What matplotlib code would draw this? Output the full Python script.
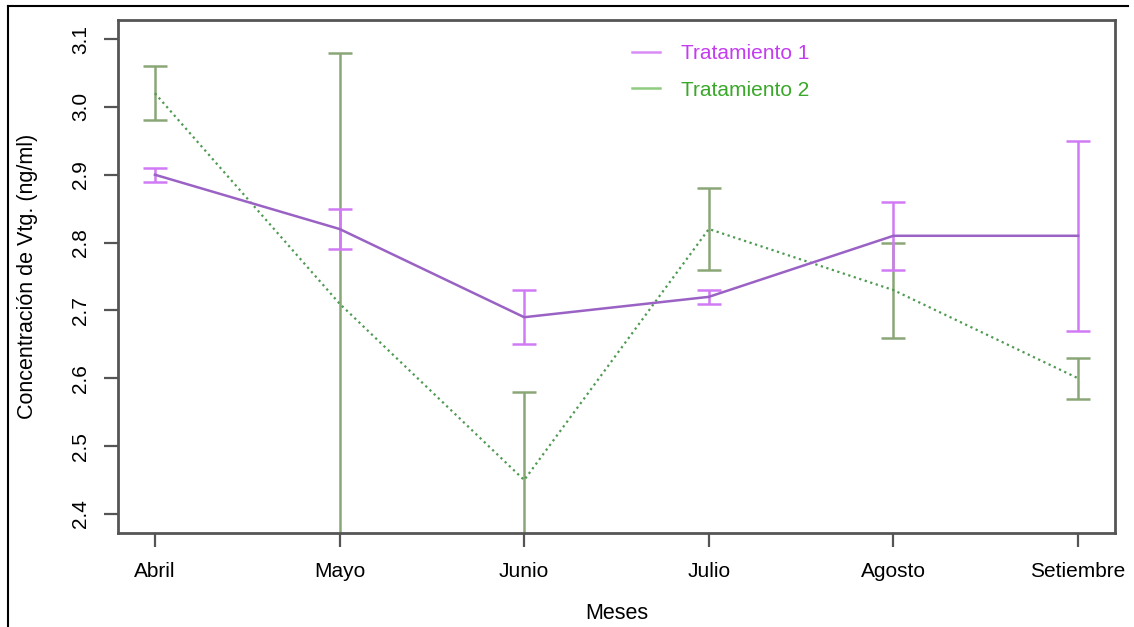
import numpy as np
import matplotlib
matplotlib.use('Agg')
import matplotlib.pyplot as plt
from matplotlib.lines import Line2D

plt.rcParams['font.family'] = ['Liberation Sans', 'DejaVu Sans']

meses = ['Abril', 'Mayo', 'Junio', 'Julio', 'Agosto', 'Setiembre']

t1_media = [2.90, 2.82, 2.69, 2.72, 2.81, 2.81]
t1_sup = [2.91, 2.85, 2.73, 2.73, 2.86, 2.95]
t1_inf = [2.89, 2.79, 2.65, 2.71, 2.76, 2.67]

t2_media = [3.02, 2.71, 2.45, 2.82, 2.73, 2.60]
t2_sup = [3.06, 3.08, 2.58, 2.88, 2.80, 2.63]
t2_inf = [2.98, 2.34, 2.32, 2.76, 2.66, 2.57]

yticks = [2.4, 2.5, 2.6, 2.7, 2.8, 2.9, 3.0, 3.1]

c1_line = '#9a62c4'
c1_err = '#d07af5'
c2_line = '#4f9a52'
c2_err = '#8ba676'
eje = '#555555'

fig = plt.figure(figsize=(11.34, 6.27), dpi=100)
ax = fig.add_axes([118 / 1134, 94 / 627, 997 / 1134, 513 / 627])

x = np.arange(1, len(meses) + 1)

t1_media = np.array(t1_media)
t2_media = np.array(t2_media)
err1 = [t1_media - np.array(t1_inf), np.array(t1_sup) - t1_media]
err2 = [t2_media - np.array(t2_inf), np.array(t2_sup) - t2_media]

ax.errorbar(x, t2_media, yerr=err2, fmt='none', ecolor=c2_err,
            elinewidth=1.8, capsize=8.6, capthick=1.8)
ax.plot(x, t2_media, color=c2_line, lw=1.6, ls=(0, (1, 1.6)))

ax.errorbar(x, t1_media, yerr=err1, fmt='none', ecolor=c1_err,
            elinewidth=1.8, capsize=8.6, capthick=1.8)
ax.plot(x, t1_media, color=c1_line, lw=1.8)

ax.set_xlim(0.8, 6.2)
ax.set_ylim(2.372, 3.128)

ax.set_xticks(x)
ax.set_xticklabels(meses, fontsize=15)
ax.set_yticks(yticks)
ax.set_yticklabels(['%.1f' % v for v in yticks], fontsize=15,
                   rotation=90, va='center')
ax.tick_params(axis='x', length=10, width=1.6, color=eje, pad=11)
ax.tick_params(axis='y', length=10, width=1.6, color=eje, pad=10)
for s in ax.spines.values():
    s.set_color(eje)
    s.set_linewidth(2)

ax.set_xlabel('Meses', fontsize=15.5, labelpad=16)
ax.set_ylabel('Concentración de Vtg. (ng/ml)', fontsize=15.5, labelpad=24)

handles = [Line2D([], [], color='#d98cf5', lw=1.8),
           Line2D([], [], color='#8fcc80', lw=1.8)]
ax.legend(handles, ['Tratamiento 1', 'Tratamiento 2'], frameon=False,
          fontsize=15, labelcolor=['#c43cf0', '#3aa82a'],
          handlelength=1.35, handletextpad=1.0, labelspacing=0.85,
          loc='upper left', bbox_to_anchor=(0.497, 0.99))

# marco exterior de la imagen
fig.add_artist(Line2D([8 / 1134, 8 / 1134], [0, 1 - 6 / 627],
                      transform=fig.transFigure, color='black', lw=1.5))
fig.add_artist(Line2D([8 / 1134, 1128 / 1134], [1 - 6 / 627, 1 - 6 / 627],
                      transform=fig.transFigure, color='black', lw=1.5))

fig.savefig('out.png', dpi=100)
